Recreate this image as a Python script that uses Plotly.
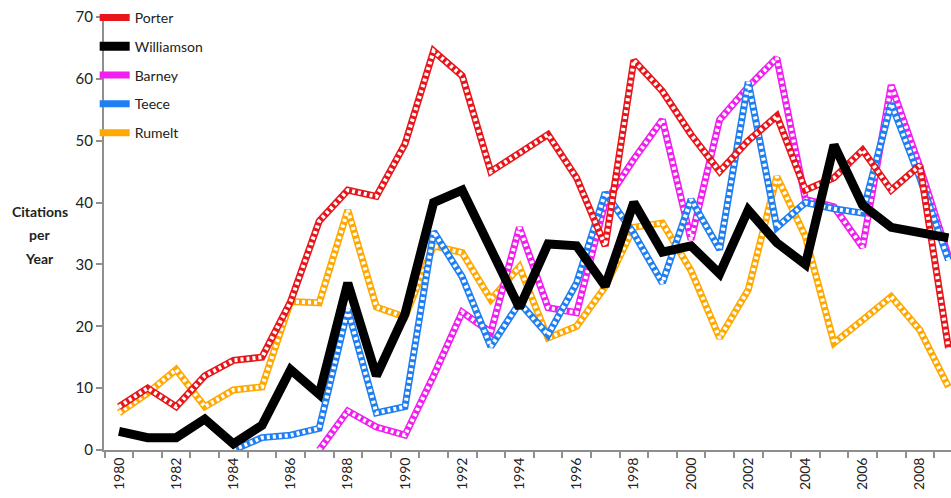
import plotly.graph_objects as go

years = list(range(1980, 2010))
tick_years = list(range(1980, 2010, 2))
tick_labels = [str(y) for y in tick_years]

porter = [7, 10, 7, 12, 14.5, 15, 24, 37, 42, 41, 49.5, 64.5, 60.5, 45, 48, 51, 44, 33,
          63, 58, 51, 45, 50, 54, 42, 44, 48.5, 42, 46, 16.5]
williamson = [3, 2, 2, 5, 1, 4, 13, 9, 27, 12, 22, 40, 42, 32.5, 23, 33.3, 33, 26.5,
              40, 32, 33, 28.5, 38.8, 33.5, 30, 49.3, 39.6, 36, 35.2, 34.3]
barney = [None, None, None, None, None, None, None, 0, 6.3, 3.7, 2.4, 12, 22.3, 19, 36,
          23, 22.2, 40, 47, 53.4, 34, 53.4, 58.7, 63.4, 40.5, 39.3, 32.8, 59, 45.8, 31.3]
teece = [None, None, None, None, 0, 2, 2.4, 3.5, 22.7, 6, 7, 35.3, 28, 16.7, 23.8, 18.6,
         27, 41.6, 35, 27, 40.5, 32.4, 59.5, 36, 40, 39, 38.3, 56, 44, 30.7]
rumelt = [6, 9.2, 13, 7, 9.7, 10.2, 24, 23.8, 38.8, 23.1, 21.5, 33, 31.9, 24.3, 29.6, 18.1,
          20, 26.4, 36, 36.7, 29, 18.1, 25.9, 44.2, 34.5, 17.3, 21, 24.8, 19.4, 10.2]

y_ticks = [0, 10, 20, 30, 40, 50, 60, 70]
y_title_lines = ["Citations", "per", "Year"]
y_title_pos = [38.6, 34.8, 31.0]

FONT = "Lato, 'Open Sans', sans-serif"
GRAY = "#8f8f8f"

series = [
    # name, values, color, rank, checkered
    ("Rumelt", rumelt, "#ffa800", 5, True),
    ("Barney", barney, "#f21ef0", 3, True),
    ("Teece", teece, "#1f7ff2", 4, True),
    ("Porter", porter, "#e8161a", 1, True),
    ("Williamson", williamson, "#000000", 2, False),
]

fig = go.Figure()
for name, vals, color, rank, checker in series:
    fig.add_trace(go.Scatter(
        x=years, y=vals, name=name, mode="lines",
        line=dict(color=color, width=9 if not checker else 7),
        legendgroup=name, legendrank=rank, connectgaps=False,
        hoverinfo="skip",
    ))
    if checker:
        fig.add_trace(go.Scatter(
            x=years, y=vals, mode="lines", showlegend=False,
            line=dict(color="white", width=4, dash="3px,3px"),
            legendgroup=name, hoverinfo="skip",
        ))

for txt, yv in zip(y_title_lines, y_title_pos):
    fig.add_annotation(
        x=-0.0756, xref="paper", y=yv, yref="y", text="<b>" + txt + "</b>",
        showarrow=False, xanchor="center", yanchor="middle",
        font=dict(family=FONT, size=14, color="#222222"),
    )

fig.update_layout(
    width=951, height=498,
    margin=dict(l=104, r=0, t=17, b=48),
    paper_bgcolor="white", plot_bgcolor="white",
    font=dict(family=FONT, size=14, color="#222222"),
    showlegend=True,
    legend=dict(
        x=-0.011, y=1.035, xanchor="left", yanchor="top",
        bgcolor="rgba(0,0,0,0)", traceorder="grouped", tracegroupgap=7.6,
        font=dict(family=FONT, size=14, color="#222222"),
    ),
    xaxis=dict(
        range=[1979.476, 2009.09], tickvals=tick_years, ticktext=tick_labels,
        tickangle=-90, ticks="", showgrid=False, zeroline=False,
        showline=True, linecolor=GRAY, linewidth=2,
        tickfont=dict(family=FONT, size=14, color="#222222"),
        minor=dict(tickvals=[y - 0.5 for y in years] + [2009.5], ticks="outside",
                   ticklen=6, tickwidth=2, tickcolor=GRAY, showgrid=False),
    ),
    yaxis=dict(
        range=[0, 70], tickvals=y_ticks, ticks="outside", ticklen=6, tickwidth=2,
        tickcolor=GRAY, showgrid=False, zeroline=False,
        showline=True, linecolor=GRAY, linewidth=2,
        tickfont=dict(family=FONT, size=15, color="#222222"),
    ),
)

# remove the default 8px page margin so the 951x498 figure fills the window exactly
fig.write_html(
    "out.html",
    config={"displayModeBar": False, "staticPlot": True},
    post_script="document.body.style.margin='0px';"
                "document.documentElement.style.overflow='hidden';",
)
